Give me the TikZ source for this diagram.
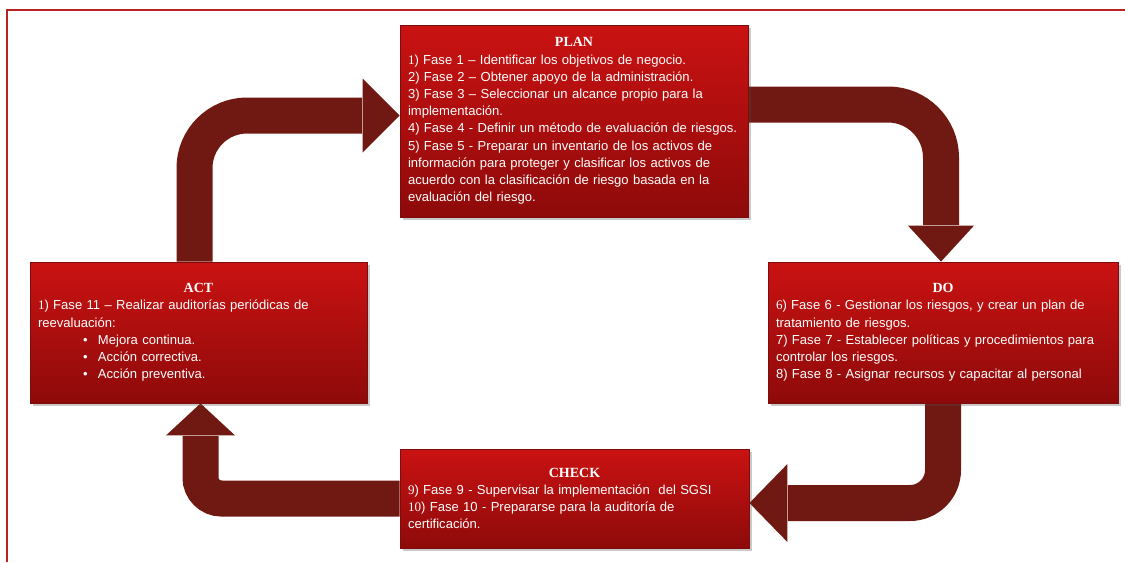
\documentclass[tikz,border=0pt]{standalone}
\usepackage{fontspec}
\setmainfont{Liberation Sans}
\newfontfamily\titleserif{Liberation Serif}
\usetikzlibrary{calc,shadows,backgrounds}

\definecolor{frameRed}{RGB}{184,36,36}
\definecolor{arrowRed}{RGB}{112,25,18}
\definecolor{boxTop}{RGB}{202,18,18}
\definecolor{boxBot}{RGB}{142,10,10}
\definecolor{boxEdge}{RGB}{125,12,12}
\definecolor{boxHi}{RGB}{222,60,60}

% centred bold serif heading inside a phase box
\newcommand{\phasetitle}[1]{\makebox[\linewidth]{\titleserif\bfseries\fontsize{10.5}{12.9}\selectfont #1}}
% serif numeral used for some item numbers
\newcommand{\sn}[1]{{\titleserif #1}}
% bulleted sub-item
\newcommand{\bulletline}[1]{\hspace*{33.75pt}\makebox[11.25pt][l]{•}#1}

\tikzset{
  phasebox/.style={draw=boxEdge, line width=0.6pt, top color=boxTop, bottom color=boxBot,
    text=white, align=left, inner xsep=6pt, inner ysep=0pt,
    font=\fontsize{9.8}{12.9}\selectfont,
    drop shadow={shadow xshift=2pt, shadow yshift=-2pt, opacity=0.3, fill=black!70},
    path picture={\draw[boxHi, line width=1.2pt]
      (path picture bounding box.north west) -- (path picture bounding box.north east);}},
  shaft/.style={draw=arrowRed, line width=27pt},
  head/.style={fill=arrowRed},
}

\begin{document}
\begin{tikzpicture}[x=0.75pt,y=-0.75pt]
\useasboundingbox (0,0) rectangle (1125,562);

% page frame (top and left edges)
\draw[frameRed, line width=1.9pt] (7,562) -- (7,10) -- (1125,10);

% the four phase boxes
\node[phasebox, text width=249pt, minimum height=144pt] (plan) at (574,121) {%
\phasetitle{PLAN}\\
\sn{1}) Fase 1 – Identificar los objetivos de negocio.\\
2) Fase 2 – Obtener apoyo de la administración.\\
3) Fase 3 – Seleccionar un alcance propio para la\\
implementación.\\
4) Fase 4 - Definir un método de evaluación de riesgos.\\
5) Fase 5 - Preparar un inventario de los activos de\\
información para proteger y clasificar los activos de\\
acuerdo con la clasificación de riesgo basada en la\\
evaluación del riesgo.};

\node[phasebox, text width=250.5pt, minimum height=105.75pt] (do) at (943,332.5) {%
\phasetitle{DO}\\
\sn{6}) Fase 6 - Gestionar los riesgos, y crear un plan de\\
tratamiento de riesgos.\\
7) Fase 7 - Establecer políticas y procedimientos para\\
controlar los riesgos.\\
8) Fase 8 - Asignar recursos y capacitar al personal};

\node[phasebox, text width=240.75pt, minimum height=105.75pt] (act) at (198.5,332.5) {%
\phasetitle{ACT}\\
\sn{1}) Fase 11 – Realizar auditorías periódicas de\\
reevaluación:\\
\bulletline{Mejora continua.}\\
\bulletline{Acción correctiva.}\\
\bulletline{Acción preventiva.}};

\node[phasebox, text width=249.75pt, minimum height=74.25pt] (check) at (574.5,498.5) {%
\phasetitle{CHECK}\\
\sn{9}) Fase 9 - Supervisar la implementación\ \ del SGSI\\
\sn{10}) Fase 10 - Prepararse para la auditoría de\\
certificación.};

% arrow tips touching the boxes
\coordinate (tl) at ($(plan.west)+(0,-5.5)$);
\coordinate (tr) at ($(do.north)+(-2,0)$);
\coordinate (br) at ($(check.east)+(0,4.5)$);
\coordinate (bl) at ($(act.south)+(2,0)$);

% bent block arrows, behind the boxes
\begin{scope}[on background layer]
  % ACT -> PLAN
  \draw[shaft, rounded corners=39.4pt] ($(act.north)+(-4,0)$) |- ($(tl)+(-37.5,0)$);
  \fill[head] (tl) -- ++(-37,-37) -- ++(0,74) -- cycle;
  % PLAN -> DO
  \draw[shaft, rounded corners=39.75pt] ($(plan.east)+(0,-16.5)$) -| ($(tr)+(0,-36.5)$);
  \fill[head] (tr) -- ++(-33,-36) -- ++(66,0) -- cycle;
  % DO -> CHECK
  \draw[shaft, rounded corners=24.75pt] (do.south) |- ($(br)+(38.5,0)$);
  \fill[head] (br) -- ++(38,-39) -- ++(0,78) -- cycle;
  % CHECK -> ACT
  \draw[shaft, rounded corners=15.75pt] (check.west) -| ($(bl)+(0,32.5)$);
  \fill[head] (bl) -- ++(-34.5,32) -- ++(69,0) -- cycle;
\end{scope}
\end{tikzpicture}
\end{document}
